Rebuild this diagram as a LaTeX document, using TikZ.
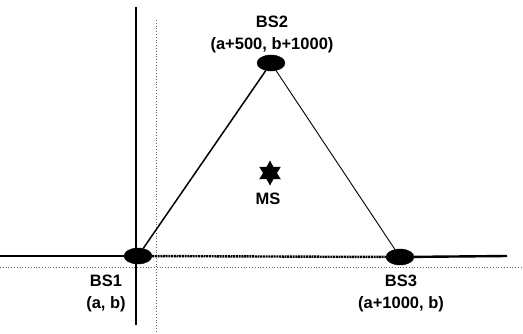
\documentclass[tikz,border=0pt]{standalone}
\usepackage{fontspec}
\setmainfont{Liberation Sans}
\usepackage{tikz}
\usetikzlibrary{shapes.geometric,positioning,calc}
\tikzset{
  station/.style={ellipse,fill=black,draw=black,inner sep=0pt,minimum width=28pt,minimum height=16pt},
  mobile/.style={star,star points=6,star point ratio=1.8,fill=black,inner sep=0pt,minimum size=25pt},
  lbl/.style={align=center,font=\fontsize{16.5}{22}\selectfont\bfseries,inner sep=0pt},
  axisline/.style={line width=2.4pt},
  guide/.style={line width=0.8pt,black!60,dotted},
  edge/.style={line width=1.5pt},
}
\begin{document}
\begin{tikzpicture}[x=1pt,y=-1pt]
  \useasboundingbox (0,0) rectangle (523,333);
  % axes and guide lines
  \coordinate (xl) at (0,256);
  \coordinate (xr) at (507,256);
  \coordinate (yt) at (136,7);
  \coordinate (yb) at (136,325);
  \coordinate (gl) at (0,267);
  \coordinate (gr) at (523,267);
  \coordinate (gt) at (156,20);
  \coordinate (gb) at (156,333);
  \draw[guide] (gl) -- (gr);
  \draw[guide] (gt) -- (gb);
  % stations
  \node[station] (bs1) at (138,256) {};
  \node[station] (bs2) at (271,63) {};
  \node[station] (bs3) at (400,257) {};
  \node[mobile] (ms) at (270,173) {};
  \draw[axisline] (yt) -- (yb);
  \draw[axisline] (xl) -- (bs1);
  \draw[axisline] (bs3) -- (xr);
  \draw[line width=2.4pt,dash pattern=on 2pt off 0.7pt] (bs1) -- (bs3);
  \draw[edge] (bs1) -- (bs2);
  \draw[line width=0.9pt] (bs2) -- (bs3);
  % labels
  \node[lbl] (l2) at (272,34) {BS2\\(a+500, b+1000)};
  \node[lbl] (lms) at (268,199) {MS};
  \node[lbl] (l1) at (106,293) {BS1\\(a, b)};
  \node[lbl] (l3) at (401,293) {BS3\\(a+1000, b)};
\end{tikzpicture}
\end{document}
